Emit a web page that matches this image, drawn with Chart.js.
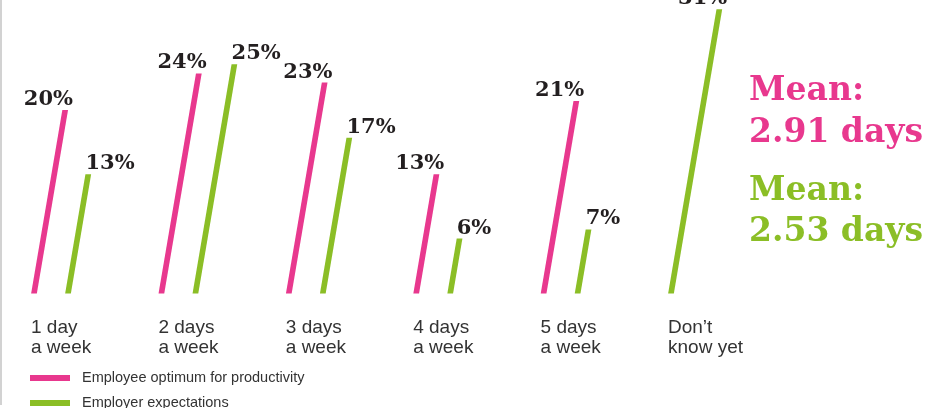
<!DOCTYPE html>
<html><head><meta charset="utf-8">
<script src="https://cdn.jsdelivr.net/npm/chart.js@4.4.1/dist/chart.umd.min.js"></script>
<style>
html,body{margin:0;padding:0;background:#fff;}
#wrap{position:relative;width:942px;height:408px;overflow:hidden;}
#edge{position:absolute;left:0;top:0;width:2px;height:405px;background:#d2d2d2;}
canvas{display:block;}
</style></head><body>
<div id="wrap"><canvas id="c" width="942" height="408"></canvas><div id="edge"></div></div>
<script>
// ---- data ----
const categories = [['1 day','a week'],['2 days','a week'],['3 days','a week'],['4 days','a week'],['5 days','a week'],['Don\u2019t','know yet']];
const employeeOptimum = [20, 24, 23, 13, 21, 31];   // last slot = "Don't know yet" (shown in green)
const employerExpectations = [13, 25, 17, 6, 7, null];
const seriesNames = ['Employee optimum for productivity', 'Employer expectations'];
const meanDays = [2.91, 2.53];

const PINK = '#e8388e', GREEN = '#8bbe26', TEXT = '#231f20';
const SKEW = 0.17;

const skewPlugin = {
  id: 'skew',
  beforeDatasetsDraw(chart) {
    const ctx = chart.ctx, base = chart.scales.y.getPixelForValue(0);
    ctx.save();
    ctx.translate(0, base);
    ctx.transform(1, 0, -SKEW, 1, 0, 0);
    ctx.translate(0, -base);
  },
  afterDatasetsDraw(chart) {
    const ctx = chart.ctx;
    ctx.restore();
    ctx.save();
    ctx.font = 'bold 21px "DejaVu Serif"';
    ctx.fillStyle = TEXT;
    ctx.textBaseline = 'alphabetic';
    chart.data.datasets.forEach((ds, di) => {
      const meta = chart.getDatasetMeta(di);
      meta.data.forEach((bar, i) => {
        const v = ds.data[i];
        if (v === null || v === undefined) return;
        const p = bar.getProps(['x', 'y', 'base', 'width'], true);
        const topX = p.x + SKEW * (p.base - p.y);
        if (di === 0) { ctx.textAlign = 'right'; ctx.fillText(v + '%', topX + p.width / 2 + 5, p.y - 5); }
        else { ctx.textAlign = 'left'; ctx.fillText(v + '%', topX - p.width / 2, p.y - 5); }
      });
    });
    ctx.restore();
  },
  afterDraw(chart) {
    const ctx = chart.ctx;
    ctx.save();
    // mean annotations
    ctx.font = 'bold 33px "DejaVu Serif"';
    ctx.textAlign = 'left';
    ctx.textBaseline = 'alphabetic';
    const cols = [PINK, GREEN];
    const ys = [[100, 142], [200, 241]];
    meanDays.forEach((m, i) => {
      ctx.fillStyle = cols[i];
      ctx.fillText('Mean:', 749, ys[i][0]);
      ctx.fillText(m.toFixed(2) + ' days', 749, ys[i][1]);
    });
    // legend
    ctx.font = '14.5px "Liberation Sans", Arial, sans-serif';
    ctx.textBaseline = 'middle';
    seriesNames.forEach((n, i) => {
      const y = 378 + i * 25;
      ctx.fillStyle = cols[i];
      ctx.fillRect(30, y - 3, 40, 6);
      ctx.fillStyle = '#333';
      ctx.fillText(n, 82, y);
    });
    ctx.restore();
  }
};

new Chart(document.getElementById('c'), {
  type: 'bar',
  data: {
    labels: categories,
    datasets: [
      { label: seriesNames[0], data: employeeOptimum,
        backgroundColor: employeeOptimum.map((v, i) => i === employeeOptimum.length - 1 ? GREEN : PINK) },
      { label: seriesNames[1], data: employerExpectations, backgroundColor: GREEN }
    ]
  },
  options: {
    responsive: false,
    animation: false,
    events: [],
    layout: { padding: { left: 51, right: 254, top: 0, bottom: 25.5 } },
    datasets: { bar: { categoryPercentage: 0.534, barPercentage: 0.168, borderWidth: 0, clip: false } },
    plugins: { legend: { display: false }, tooltip: { enabled: false } },
    scales: {
      x: {
        offset: false,
        grid: { display: false, drawTicks: false },
        border: { display: false },
        ticks: {
          align: 'start', labelOffset: -20, padding: 24.5, maxRotation: 0, autoSkip: false,
          color: '#333',
          font: { family: '"Liberation Sans", Arial, sans-serif', size: 19, lineHeight: 1.05 }
        }
      },
      y: { display: false, min: 0, max: 32 }
    }
  },
  plugins: [skewPlugin]
});
</script>
</body></html>
